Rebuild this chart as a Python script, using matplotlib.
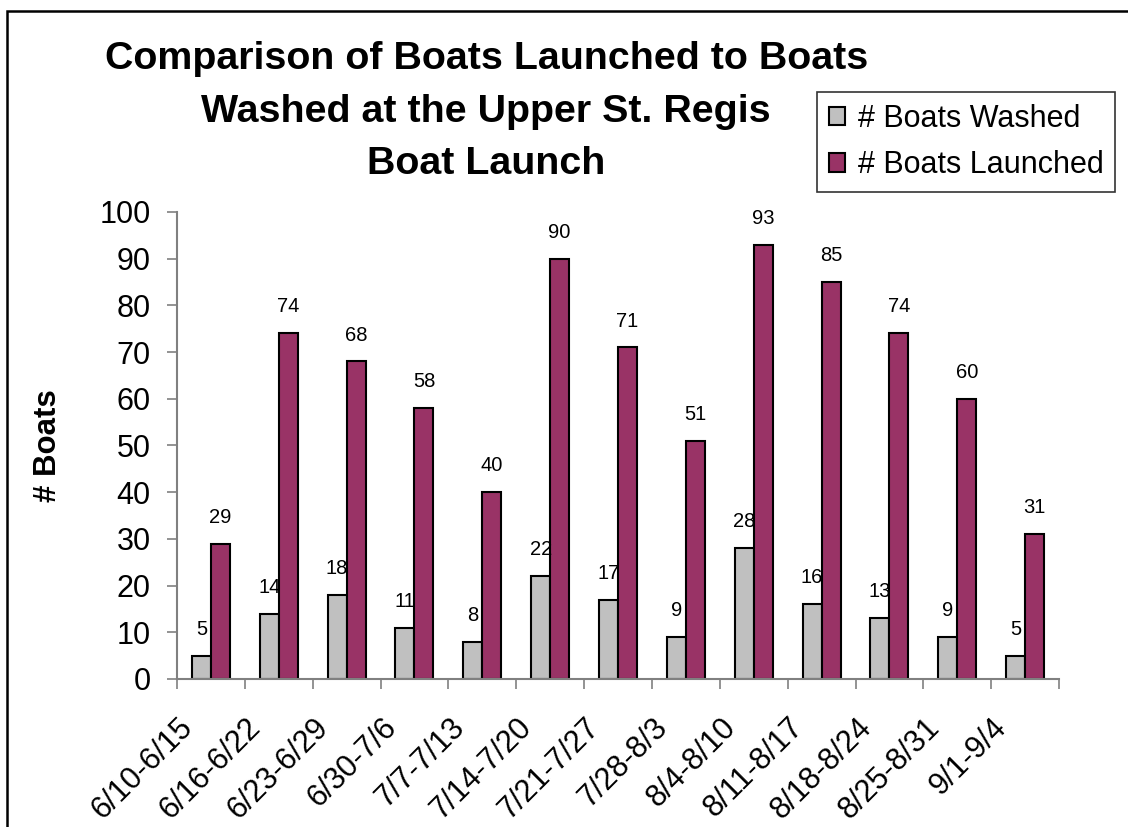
import matplotlib.pyplot as plt
import matplotlib.patches as patches
import matplotlib.transforms as mtransforms
import numpy as np

plt.rcParams['font.family'] = ['Liberation Sans', 'DejaVu Sans']

# data
weeks = ['6/10-6/15', '6/16-6/22', '6/23-6/29', '6/30-7/6', '7/7-7/13',
         '7/14-7/20', '7/21-7/27', '7/28-8/3', '8/4-8/10', '8/11-8/17',
         '8/18-8/24', '8/25-8/31', '9/1-9/4']
washed = [5, 14, 18, 11, 8, 22, 17, 9, 28, 16, 13, 9, 5]
launched = [29, 74, 68, 58, 40, 90, 71, 51, 93, 85, 74, 60, 31]

gray = '#C0C0C0'
plum = '#993366'
axis_col = '#808080'

fig = plt.figure(figsize=(11.28, 8.27), dpi=100)
ax = fig.add_axes([0.1569, 0.179, 0.782, 0.5647])

x = np.arange(len(weeks))
w = 0.28
b1 = ax.bar(x - w / 2, washed, w, color=gray, edgecolor='black', linewidth=1.5,
            label='# Boats Washed')
b2 = ax.bar(x + w / 2, launched, w, color=plum, edgecolor='black', linewidth=1.5,
            label='# Boats Launched')

# value labels above each bar
for bars, vals in ((b1, washed), (b2, launched)):
    for r, v in zip(bars, vals):
        ax.annotate(str(v), (r.get_x() + r.get_width() / 2, v),
                    xytext=(0, 19), textcoords='offset points',
                    ha='center', va='center', fontsize=14.5)

ax.set_xlim(-0.5, len(weeks) - 0.5)
ax.set_ylim(0, 100)
ax.set_yticks(range(0, 101, 10))
ax.tick_params(axis='y', labelsize=22, length=7, width=1.2, color=axis_col, pad=12)

# category labels at centres, tick marks at boundaries
ax.set_xticks(x)
ax.set_xticklabels(weeks, rotation=45, ha='right', fontsize=22)
ax.tick_params(axis='x', which='major', length=0, pad=24)
ax.set_xticks(np.arange(-0.5, len(weeks)), minor=True)
ax.tick_params(axis='x', which='minor', length=7, width=1.2, color=axis_col)
shift = mtransforms.ScaledTranslation(-12 / 100, 0, fig.dpi_scale_trans)
for lab in ax.get_xticklabels():
    lab.set_transform(lab.get_transform() + shift)

for s in ['top', 'right']:
    ax.spines[s].set_visible(False)
for s in ['left', 'bottom']:
    ax.spines[s].set_color(axis_col)
    ax.spines[s].set_linewidth(1.5)

ax.set_ylabel('# Boats', fontsize=22.5, fontweight='bold', labelpad=26)

fig.text(0.431, 0.865, 'Comparison of Boats Launched to Boats\nWashed at the Upper St. Regis\nBoat Launch',
         ha='center', va='center', fontsize=28.4, fontweight='bold', linespacing=1.58)

leg = fig.legend(handles=[b1, b2], loc='upper left',
                 bbox_to_anchor=(817 / 1128, 1 - 92 / 827), borderaxespad=0,
                 fontsize=22, frameon=True, fancybox=False, edgecolor='black',
                 handlelength=0.55, handleheight=0.55, handletextpad=0.4,
                 labelspacing=0.55, borderpad=0.38)
leg.get_frame().set_linewidth(1.2)

# outer frame running off the right and bottom of the picture
fig.patches.append(patches.Rectangle((7 / 1128, -0.1), 1.1, 1.1 - 11 / 827,
                                     transform=fig.transFigure, fill=False,
                                     edgecolor='black', linewidth=1.8))

fig.savefig('out.png', dpi=100)
